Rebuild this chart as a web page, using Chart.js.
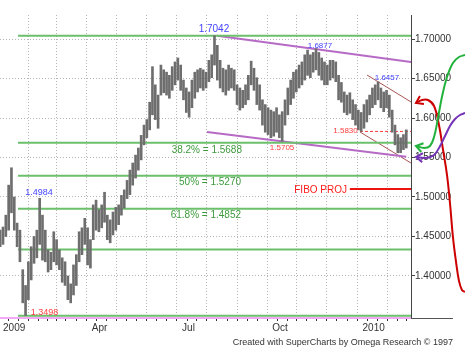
<!DOCTYPE html>
<html><head><meta charset="utf-8">
<script src="https://cdn.jsdelivr.net/npm/chart.js@4/dist/chart.umd.min.js"></script>
<style>html,body{margin:0;padding:0;background:#fff}</style>
</head><body>
<canvas id="c" width="465" height="357"></canvas>
<script>
// trading-day index (0 = first trading day of Jan 2009), sampled every 2 days
const days = [-2,0,2,4,6,8,10,12,14,16,18,20,22,24,26,28,30,32,34,36,38,40,42,44,46,48,50,52,54,56,58,60,62,64,66,68,70,72,74,76,78,80,82,84,86,88,90,92,94,96,98,100,102,104,106,108,110,112,114,116,118,120,122,124,126,128,130,132,134,136,138,140,142,144,146,148,150,152,154,156,158,160,162,164,166,168,170,172,174,176,178,180,182,184,186,188,190,192,194,196,198,200,202,204,206,208,210,212,214,216,218,220,222,224,226,228,230,232,234,236,238,240,242,244,246,248,250,252,254,256,258,260,262,264,266,268,270,272,274,276,278,280,282,284,286];
const lows = [
1.437,1.440,1.450,1.458,1.480,1.458,1.437,1.418,1.366,1.3498,
1.370,1.395,1.416,1.423,1.440,1.420,1.418,1.405,1.408,1.418,
1.414,1.408,1.392,1.388,1.370,1.366,1.376,1.388,1.418,1.427,
1.440,1.414,1.410,1.446,1.458,1.456,1.461,1.468,1.446,1.442,
1.452,1.458,1.465,1.477,1.486,1.498,1.503,1.515,1.524,1.534,
1.547,1.566,1.575,1.585,1.604,1.598,1.587,1.629,1.632,1.629,
1.625,1.635,1.642,1.648,1.635,1.623,1.607,1.601,1.613,1.625,
1.633,1.638,1.635,1.638,1.646,1.651,1.667,1.648,1.638,1.633,
1.629,1.635,1.638,1.635,1.617,1.610,1.613,1.617,1.623,1.642,
1.635,1.617,1.610,1.591,1.582,1.579,1.575,1.577,1.582,1.575,
1.5705,1.591,1.604,1.617,1.625,1.633,1.638,1.642,1.648,1.654,
1.651,1.658,1.661,1.654,1.648,1.642,1.642,1.648,1.651,1.646,
1.623,1.620,1.607,1.604,1.606,1.598,1.591,1.585,1.583,1.587,
1.595,1.604,1.613,1.617,1.623,1.613,1.608,1.613,1.601,1.582,
1.566,1.556,1.556,1.560,1.562];
const highs = [
1.458,1.462,1.477,1.515,1.537,1.500,1.467,1.458,1.408,1.388,
1.418,1.437,1.450,1.458,1.4984,1.477,1.458,1.433,1.430,1.456,
1.446,1.433,1.423,1.418,1.400,1.390,1.414,1.427,1.456,1.461,
1.473,1.461,1.446,1.490,1.496,1.484,1.490,1.506,1.477,1.471,
1.481,1.487,1.490,1.502,1.509,1.521,1.534,1.543,1.553,1.562,
1.578,1.591,1.598,1.620,1.665,1.642,1.629,1.667,1.661,1.658,
1.654,1.665,1.671,1.676,1.667,1.648,1.638,1.633,1.648,1.658,
1.661,1.663,1.661,1.658,1.673,1.680,1.7042,1.692,1.673,1.663,
1.661,1.667,1.663,1.661,1.642,1.638,1.635,1.642,1.654,1.672,
1.663,1.651,1.642,1.623,1.617,1.613,1.610,1.608,1.613,1.604,
1.608,1.623,1.638,1.648,1.658,1.661,1.667,1.671,1.680,1.686,
1.680,1.683,1.6877,1.683,1.676,1.671,1.667,1.673,1.673,1.671,
1.654,1.645,1.633,1.629,1.632,1.623,1.617,1.610,1.607,1.617,
1.623,1.629,1.638,1.642,1.6457,1.638,1.633,1.635,1.629,1.610,
1.591,1.579,1.575,1.579,1.585];

// axis ticks
const monthTicks = [0,22,41,63,84,105,127,148,170,191,212,233,255,276];
const monthLabels = ['2009','','','Apr','','','Jul','','','Oct','','','2010',''];
const priceTicks = [1.40,1.45,1.50,1.55,1.60,1.65,1.70];

// Fibonacci retracement levels (from 1.7042 high to 1.3498 low)
const fibLevels = [1.7042,1.5688,1.5270,1.4852,1.4334,1.3498];
const fibStart = 10.6;
const X_MIN = -2.13, X_MAX = 289.36;

// trend lines [day, price]
const upperTrend = [[151.8,1.7042],[289.36,1.6709]];
const lowerTrend = [[144.7,1.5823],[286,1.5509]];
const brownA = [[258.2,1.6544],[289.36,1.6203]];
const brownB = [[253.2,1.5823],[289.36,1.5430]];
const dashed1583 = [[253.2,1.5830],[289.36,1.5830]];
const fiboProj = [[246,1.5101],[289.36,1.5101]];

// projection curves (listed from right end to arrow tip)
const greenCurve = [[327.7,1.6797],[323.4,1.6772],[319.1,1.6696],[314.9,1.6519],[311.3,1.6266],[308.5,1.6000],[305.7,1.5759],[302.8,1.5646],[298.6,1.5620],[292.9,1.5646]];
const purpleCurve = [[327.7,1.6063],[324.1,1.6038],[320.6,1.5987],[317,1.5899],[313.5,1.5772],[310,1.5646],[305.7,1.5532],[300,1.5494],[292.9,1.5506]];
const redCurve = [[327.7,1.3797],[325.5,1.3823],[323.4,1.3937],[321.3,1.4177],[319.1,1.4494],[317,1.4924],[314.9,1.5278],[312.1,1.5595],[309.2,1.5911],[305.7,1.6152],[301.4,1.6228],[297.2,1.6228],[292.9,1.6190]];

// text annotations [text, day, price, size, color, align]
const notes = [
 ['1.7042',149.6,1.7089,10,'#4444ff','center'],
 ['1.6877',224.8,1.6886,8,'#4444ff','center'],
 ['1.6457',272.3,1.6481,8,'#4444ff','center'],
 ['1.5830',242.9,1.5810,8,'#ff4040','center'],
 ['1.5705',197.9,1.5595,8,'#ff4040','center'],
 ['1.4984',25.5,1.5025,9,'#4444ff','center'],
 ['1.3498',29.4,1.3512,9,'#ff4040','center'],
 ['38.2% = 1.5688',169.5,1.5557,10,'#3c9a3c','right'],
 ['50% = 1.5270',168.8,1.5152,10,'#3c9a3c','right'],
 ['61.8% = 1.4852',168.8,1.4734,10,'#3c9a3c','right'],
 ['FIBO PROJ',244,1.5051,10,'#ff1a1a','right']
];
const footer = 'Created with SuperCharts by Omega Research \u00A9 1997';

const FONT = "'Liberation Sans', Arial, sans-serif";
const pts = a => a.map(p => ({x:p[0], y:p[1]}));
const seg = (data, color, width, extra) => Object.assign({
  type:'line', data: pts(data), borderColor: color, borderWidth: width,
  pointRadius: 0, fill: false, tension: 0, order: 2
}, extra || {});

const datasets = [];
datasets.push({
  type:'bar', label:'GBP/USD',
  data: days.map((d,k) => ({x:d, y:[lows[k], highs[k]]})),
  backgroundColor:'#6e6e6e', borderWidth:0, barThickness:2, order:1
});
fibLevels.forEach(l => datasets.push(seg([[fibStart,l],[X_MAX,l]], '#6cbf6b', 2)));
datasets.push(seg(upperTrend, '#b66ac6', 2));
datasets.push(seg(lowerTrend, '#b66ac6', 2));
datasets.push(seg(brownA, '#a85550', 1));
datasets.push(seg(brownB, '#a85550', 1));
datasets.push(seg(dashed1583, '#ff3b3b', 1, {borderDash:[3,2]}));
datasets.push(seg(fiboProj, '#ee1111', 2));
datasets.push(seg(greenCurve, '#22b23c', 2, {tension:0.4, clip:false, order:0, arrow:true}));
datasets.push(seg(purpleCurve, '#7534b8', 2, {tension:0.4, clip:false, order:0, arrow:true}));
datasets.push(seg(redCurve, '#cc0000', 2, {tension:0.4, clip:false, order:0, arrow:true}));

const decor = {
  id:'decor',
  afterDatasetsDraw(chart) {
    const ctx = chart.ctx, xs = chart.scales.x, ys = chart.scales.y, ca = chart.chartArea;
    ctx.save();
    chart.data.datasets.forEach((ds, i) => {
      if (!ds.arrow) return;
      const els = chart.getDatasetMeta(i).data;
      const tip = els[els.length-1], prev = els[els.length-2];
      let dx = prev.x - tip.x, dy = prev.y - tip.y;
      const len = Math.hypot(dx, dy); dx /= len; dy /= len;
      const L = 8, a = 0.6;
      ctx.strokeStyle = ds.borderColor; ctx.lineWidth = 2; ctx.setLineDash([]);
      ctx.beginPath();
      ctx.moveTo(tip.x + L*(dx*Math.cos(a) - dy*Math.sin(a)), tip.y + L*(dx*Math.sin(a) + dy*Math.cos(a)));
      ctx.lineTo(tip.x, tip.y);
      ctx.lineTo(tip.x + L*(dx*Math.cos(-a) - dy*Math.sin(-a)), tip.y + L*(dx*Math.sin(-a) + dy*Math.cos(-a)));
      ctx.stroke();
    });
    notes.forEach(n => {
      ctx.font = n[3] + 'px ' + FONT;
      ctx.fillStyle = n[4]; ctx.textAlign = n[5]; ctx.textBaseline = 'alphabetic';
      ctx.fillText(n[0], xs.getPixelForValue(n[1]), ys.getPixelForValue(n[2]));
    });
    ctx.strokeStyle = '#555'; ctx.lineWidth = 1;
    ctx.beginPath(); ctx.moveTo(ca.right, ca.bottom + 0.5); ctx.lineTo(ca.right + 42, ca.bottom + 0.5); ctx.stroke();
    ctx.font = '9px ' + FONT; ctx.fillStyle = '#333'; ctx.textAlign = 'right';
    ctx.fillText(footer, 453, 345);
    ctx.restore();
  }
};

new Chart(document.getElementById('c'), {
  type:'bar',
  data:{ datasets },
  options:{
    responsive:false, animation:false, events:[],
    layout:{ padding:{ top:15, left:0, right:0, bottom:0 } },
    plugins:{ legend:{display:false}, tooltip:{enabled:false} },
    elements:{ line:{ capBezierPoints:false } },
    scales:{
      x:{
        type:'linear', min:X_MIN, max:X_MAX, offset:false,
        afterBuildTicks: s => {
          const t = [];
          monthTicks.forEach((m, k) => {
            t.push({value:m});
            const next = k+1 < monthTicks.length ? monthTicks[k+1] : m + 21;
            for (let j = 1; j < 3; j++) { const v = m + (next - m) * j / 3; if (v < X_MAX) t.push({value:v}); }
          });
          s.ticks = t;
        },
        afterFit: s => { s.height = 39; },
        ticks:{ autoSkip:false, maxRotation:0, minRotation:0, align:'start', padding:1,
          font:{ family:FONT, size:10 }, color:'#333',
          callback: v => { const k = monthTicks.indexOf(v); return k >= 0 ? monthLabels[k] : ''; } },
        grid:{ color: c => (c.tick && monthTicks.includes(c.tick.value)) ? '#b5b5b5' : 'rgba(0,0,0,0)',
          tickColor:'#333', tickLength:3, lineWidth:1 },
        border:{ color:'#f2a8f2', width:2, dash:[1,2] }
      },
      y:{
        position:'right', min:1.3468, max:1.7304,
        afterBuildTicks: s => { s.ticks = priceTicks.map(v => ({value:v})); },
        afterFit: s => { s.width = 54; },
        ticks:{ callback: v => Number(v).toFixed(5), font:{ family:FONT, size:10 }, color:'#333', padding:0 },
        grid:{ color:'#b5b5b5', tickColor:'#444', tickLength:4, lineWidth:1 },
        border:{ color:'#444', width:1, dash:[1,2] }
      }
    }
  },
  plugins:[decor]
});
</script>
</body></html>
